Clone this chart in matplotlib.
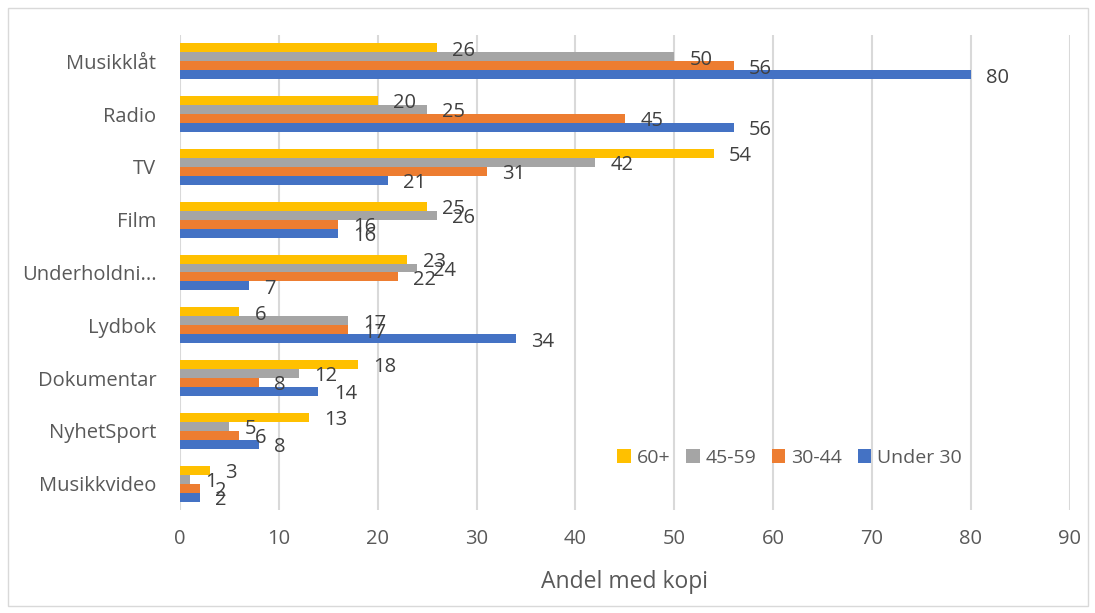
import numpy as np
import matplotlib.pyplot as plt
from matplotlib.patches import Rectangle

categories = ['Musikklåt', 'Radio', 'TV', 'Film', 'Underholdni...', 'Lydbok',
              'Dokumentar', 'NyhetSport', 'Musikkvideo']
series_names = ['60+', '45-59', '30-44', 'Under 30']
age_60 = [26, 20, 54, 25, 23, 6, 18, 13, 3]
age_45 = [50, 25, 42, 26, 24, 17, 12, 5, 1]
age_30 = [56, 45, 31, 16, 22, 17, 8, 6, 2]
under_30 = [80, 56, 21, 16, 7, 34, 14, 8, 2]
colors = ['#FFC000', '#A5A5A5', '#ED7D31', '#4472C4']


def main():
    plt.rcParams['font.family'] = ['Open Sans', 'DejaVu Sans']
    fig = plt.figure(figsize=(10.95, 6.13), dpi=100)
    ax = fig.add_axes([0.1644, 0.168, 0.8126, 0.775])

    y = np.arange(len(categories))
    h = 0.17
    all_series = [age_60, age_45, age_30, under_30]
    for i, (vals, name, c) in enumerate(zip(all_series, series_names, colors)):
        pos = y - 1.5 * h + i * h
        ax.barh(pos, vals, height=h, color=c, label=name, zorder=3)
        for p, v in zip(pos, vals):
            ax.annotate(str(v), (v, p), xytext=(11, -2), textcoords='offset points',
                        ha='left', va='center', fontsize=14.5, color='#404040', zorder=4)

    ax.set_ylim(len(categories) - 0.5, -0.5)
    ax.set_xlim(0, 90)
    ax.set_xticks(range(0, 91, 10))
    ax.set_yticks(y)
    ax.set_yticklabels(categories)
    ax.tick_params(length=0, labelsize=14.5, labelcolor='#595959')
    ax.tick_params(axis='x', pad=14)
    ax.tick_params(axis='y', pad=17)
    ax.grid(axis='x', color='#D9D9D9', linewidth=1.5, zorder=0)
    for s in ax.spines.values():
        s.set_visible(False)
    ax.set_xlabel('Andel med kopi', fontsize=16.5, color='#595959', labelpad=15)

    ax.legend(loc='center', bbox_to_anchor=(0.685, 0.11), ncol=4, frameon=False,
              fontsize=14, labelcolor='#595959', handlelength=0.7, handleheight=0.7,
              handletextpad=0.3, columnspacing=0.8)

    fig.patches.append(Rectangle((0.007, 0.012), 0.987, 0.975, transform=fig.transFigure,
                                 fill=False, edgecolor='#D9D9D9', linewidth=1))

    fig.savefig('out.png', dpi=100)


if __name__ == '__main__':
    main()
